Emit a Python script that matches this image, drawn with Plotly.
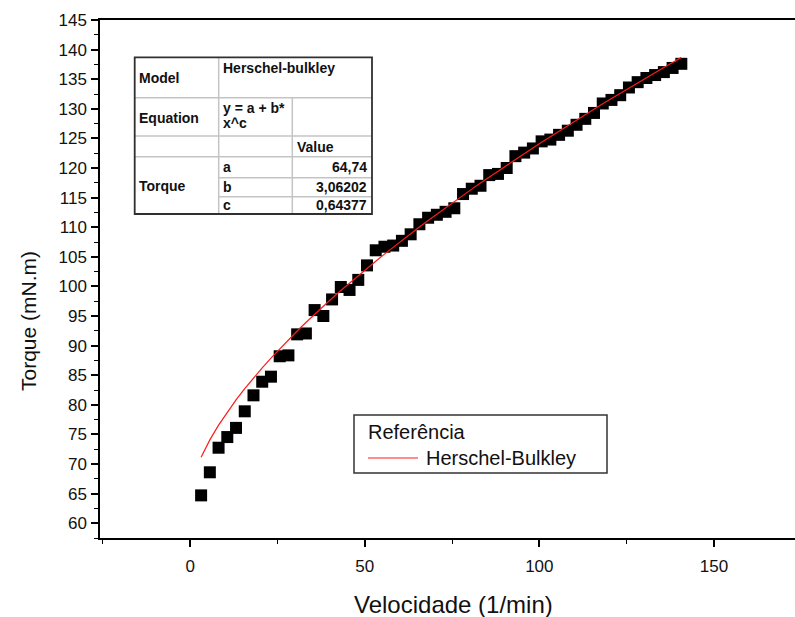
import plotly.graph_objects as go

# ---------------- data ----------------
velocidade = [3.15, 5.65, 8.15, 10.65, 13.15, 15.65, 18.15, 20.65, 23.15, 25.65,
              28.15, 30.65, 33.15, 35.65, 38.15, 40.65, 43.15, 45.65, 48.15, 50.65,
              53.15, 55.65, 58.15, 60.65, 63.15, 65.65, 68.15, 70.65, 73.15, 75.65,
              78.15, 80.65, 83.15, 85.65, 88.15, 90.65, 93.15, 95.65, 98.15, 100.65,
              103.15, 105.65, 108.15, 110.65, 113.15, 115.65, 118.15, 120.65, 123.15, 125.65,
              128.15, 130.65, 133.15, 135.65, 138.15, 140.65]
torque = [64.7, 68.6, 72.75, 74.55, 76.1, 78.9, 81.6, 83.9, 84.75, 88.2,
          88.35, 91.9, 92.05, 96.0, 95.0, 97.8, 99.9, 99.4, 101.1, 103.55,
          106.1, 106.7, 106.9, 107.7, 108.8, 110.5, 111.6, 112.1, 112.6, 113.2,
          115.6, 116.5, 117.0, 118.8, 119.0, 120.0, 122.0, 122.6, 123.3, 124.5,
          124.8, 125.6, 126.3, 127.3, 128.3, 129.3, 130.9, 131.5, 132.3, 133.6,
          134.5, 135.2, 135.7, 136.2, 136.9, 137.6]

fit_a = 64.74
fit_b = 3.06202
fit_c = 0.64377
fit_curve = [fit_a + fit_b * v ** fit_c for v in velocidade]

x_ticks = [0, 50, 100, 150]
y_ticks = list(range(60, 146, 5))

table_params = ["a", "b", "c"]
table_labels = ["64,74", "3,06202", "0,64377"]

# ---------------- layout helpers ----------------
W, H = 795, 617
L, R, T, B = 100, 795, 20, 538


def px(xp):
    return (xp - L) / (R - L)


def py(yp):
    return (B - yp) / (B - T)


FONT = "Liberation Sans, Arial, sans-serif"

fig = go.Figure()
fig.add_trace(go.Scatter(x=velocidade, y=torque, mode="markers", name="Referência",
                         marker=dict(symbol="square", size=12, color="black",
                                     line=dict(width=0)),
                         showlegend=False))
fig.add_trace(go.Scatter(x=velocidade, y=fit_curve, mode="lines", name="Herschel-Bulkley",
                         line=dict(color="#ff1a1a", width=1.2), showlegend=False))

fig.update_layout(
    width=W, height=H,
    margin=dict(l=L, r=W - R, t=T, b=H - B),
    plot_bgcolor="white", paper_bgcolor="white",
    font=dict(family=FONT, color="#111"),
)
fig.update_xaxes(
    range=[-25.8, 173.2], tickvals=x_ticks, ticks="outside", ticklen=7, tickwidth=1.5,
    tickcolor="black", showline=True, linecolor="black", linewidth=1.5, mirror=True,
    showgrid=False, zeroline=False, tickfont=dict(size=17, family=FONT, color="#111"),
    ticklabelstandoff=5,
    minor=dict(tick0=-25, dtick=50, ticks="outside", ticklen=4, tickwidth=1.2, tickcolor="black"),
)
fig.update_yaxes(
    range=[57.5, 145], tickvals=y_ticks, ticks="outside", ticklen=7, tickwidth=1.5,
    tickcolor="black", showline=True, linecolor="black", linewidth=1.5, mirror=False,
    showgrid=False, zeroline=False, tickfont=dict(size=17, family=FONT, color="#111"),
    ticklabelstandoff=1,
    minor=dict(tick0=57.5, dtick=5, ticks="outside", ticklen=4, tickwidth=1.2, tickcolor="black"),
)

shapes = []
annotations = []

# axis titles
annotations.append(dict(text="Velocidade (1/min)", x=px(453), y=py(604), xref="paper", yref="paper",
                        xanchor="center", yanchor="middle", showarrow=False,
                        font=dict(size=24, family=FONT, color="#111")))
annotations.append(dict(text="Torque (mN.m)", x=px(28), y=py(321), xref="paper", yref="paper",
                        xanchor="center", yanchor="middle", showarrow=False, textangle=-90,
                        font=dict(size=21, family=FONT, color="#111")))

# ---------------- legend box ----------------
shapes.append(dict(type="rect", xref="paper", yref="paper", x0=px(354), x1=px(607), y0=py(473), y1=py(415),
                   line=dict(color="#333", width=1.5), fillcolor="white", layer="above"))
shapes.append(dict(type="line", xref="paper", yref="paper", x0=px(368), x1=px(418), y0=py(458), y1=py(458),
                   line=dict(color="#ff1a1a", width=1.2), layer="above"))
annotations.append(dict(text="Referência", x=px(366), y=py(432), xref="paper", yref="paper",
                        xanchor="left", yanchor="middle", showarrow=False,
                        font=dict(size=20, family=FONT, color="#111")))
annotations.append(dict(text="Herschel-Bulkley", x=px(424), y=py(458), xref="paper", yref="paper",
                        xanchor="left", yanchor="middle", showarrow=False,
                        font=dict(size=20, family=FONT, color="#111")))

# ---------------- parameter table ----------------
tx = [134.7, 218.7, 292.3, 372.0]
ty = [57.3, 97.7, 136.0, 156.7, 177.7, 196.7, 214.0]
GRID = "#c4c4c4"

shapes.append(dict(type="rect", xref="paper", yref="paper", x0=px(tx[0]), x1=px(tx[3]),
                   y0=py(ty[6]), y1=py(ty[0]), line=dict(width=0), fillcolor="white", layer="above"))


def hline(x0, x1, y):
    shapes.append(dict(type="line", xref="paper", yref="paper", x0=px(x0), x1=px(x1), y0=py(y), y1=py(y),
                       line=dict(color=GRID, width=1.5), layer="above"))


def vline(x, y0, y1):
    shapes.append(dict(type="line", xref="paper", yref="paper", x0=px(x), x1=px(x), y0=py(y0), y1=py(y1),
                       line=dict(color=GRID, width=1.5), layer="above"))


hline(tx[0], tx[3], ty[1])
hline(tx[0], tx[3], ty[2])
hline(tx[0], tx[3], ty[3])
hline(tx[1], tx[3], ty[4])
hline(tx[1], tx[3], ty[5])
vline(tx[1], ty[0], ty[6])
vline(tx[2], ty[1], ty[6])
shapes.append(dict(type="rect", xref="paper", yref="paper", x0=px(tx[0]), x1=px(tx[3]),
                   y0=py(ty[6]), y1=py(ty[0]), line=dict(color="#303030", width=1.8), layer="above"))

TF = dict(size=14, family=FONT, color="#111")


def cell(text, x, y, anchor="left"):
    annotations.append(dict(text="<b>" + text + "</b>", x=px(x), y=py(y), xref="paper", yref="paper",
                            xanchor=anchor, yanchor="middle", showarrow=False, font=TF))


cell("Model", 137, 78)
cell("Herschel-bulkley", 221, 68)
cell("Equation", 137, 118)
cell("y = a + b*", 221, 108)
cell("x^c", 221, 123)
cell("Value", 295, 147)
cell("Torque", 137, 186)
row_y = [167, 187, 205]
for name, lab, yy in zip(table_params, table_labels, row_y):
    cell(name, 221, yy)
    cell(lab, 369, yy, anchor="right")

fig.update_layout(shapes=shapes, annotations=annotations)
fig.write_html("out.html")
